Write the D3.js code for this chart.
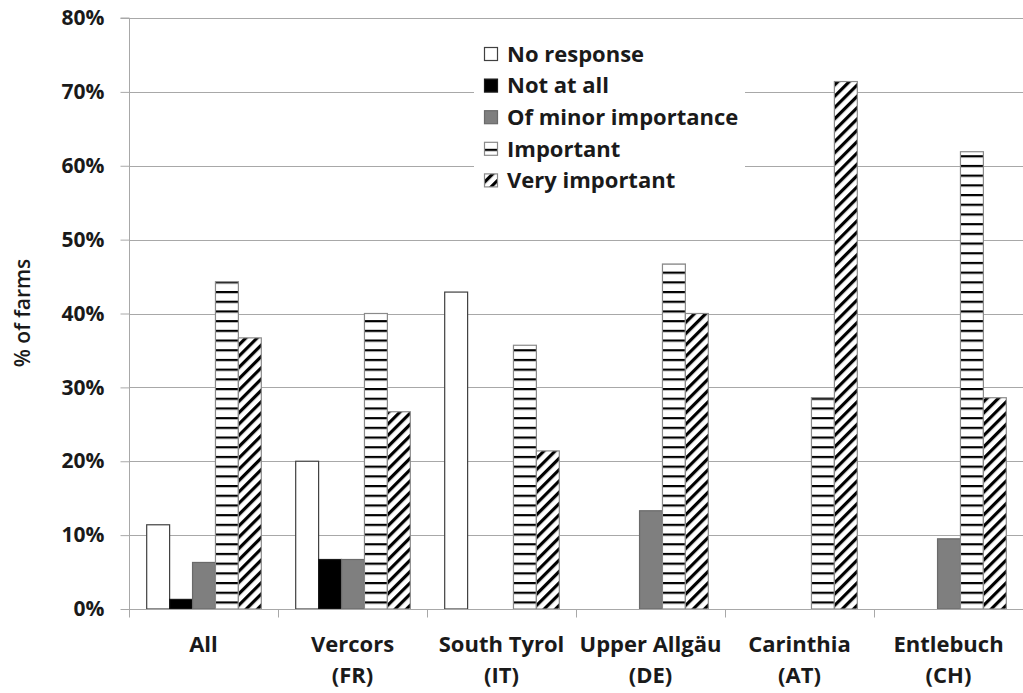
<!DOCTYPE html>
<html>
<head>
<meta charset="utf-8">
<script src="https://cdn.jsdelivr.net/npm/d3@7"></script>
<style>
  html, body { margin: 0; padding: 0; background: #fff; }
  svg { display: block; }
  text { font-family: "Open Sans", "DejaVu Sans", sans-serif; fill: #1a1a1a; }
</style>
</head>
<body>
<svg id="chart" width="1023" height="693"></svg>
<script>
// ---- data ----
const categories = ["All", "Vercors (FR)", "South Tyrol (IT)", "Upper Allgäu (DE)", "Carinthia (AT)", "Entlebuch (CH)"];
const categoryLines = [["All"], ["Vercors", "(FR)"], ["South Tyrol", "(IT)"], ["Upper Allgäu", "(DE)"], ["Carinthia", "(AT)"], ["Entlebuch", "(CH)"]];
const seriesNames = ["No response", "Not at all", "Of minor importance", "Important", "Very important"];
const noResponse    = [11.4, 20.0, 42.9, 0, 0, 0];
const notAtAll      = [1.3, 6.7, 0, 0, 0, 0];
const minorImport   = [6.3, 6.7, 0, 13.3, 0, 9.5];
const important     = [44.3, 40.0, 35.7, 46.7, 28.6, 61.9];
const veryImportant = [36.7, 26.7, 21.4, 40.0, 71.4, 28.6];
const yTicks = [0, 10, 20, 30, 40, 50, 60, 70, 80];
const yTitle = "% of farms";

const seriesValues = [noResponse, notAtAll, minorImport, important, veryImportant];

// ---- layout ----
const svg = d3.select("#chart");
const mLeft = 129, mRight = 1023, mTop = 18, mBottom = 609;

const defs = svg.append("defs");
const hp = defs.append("pattern").attr("id", "hstripe").attr("patternUnits", "userSpaceOnUse")
  .attr("width", 10).attr("height", 9.7);
hp.append("rect").attr("width", 10).attr("height", 9.7).attr("fill", "#fff");
hp.append("rect").attr("y", 0).attr("width", 10).attr("height", 2.2).attr("fill", "#000");

const dp = defs.append("pattern").attr("id", "dstripe").attr("patternUnits", "userSpaceOnUse")
  .attr("width", 8).attr("height", 8).attr("patternTransform", "rotate(45)");
dp.append("rect").attr("width", 8).attr("height", 8).attr("fill", "#fff");
dp.append("rect").attr("x", 0).attr("width", 3.2).attr("height", 8).attr("fill", "#000");

const fills = ["#ffffff", "#000000", "#7f7f7f", "url(#hstripe)", "url(#dstripe)"];
const strokes = ["#404040", "#1a1a1a", "#6a6a6a", "#8a8a8a", "#8a8a8a"];

const y = d3.scaleLinear().domain([0, 80]).range([mBottom, mTop]);
const x0 = d3.scaleBand().domain(categories).range([mLeft, mRight]).paddingInner(0).paddingOuter(0);
const x1 = d3.scaleBand().domain(seriesNames).range([0, x0.bandwidth()]).paddingInner(0).paddingOuter(0.75);

// gridlines
svg.append("g").selectAll("line").data(yTicks.filter(d => d > 0)).join("line")
  .attr("x1", mLeft).attr("x2", mRight)
  .attr("y1", d => Math.round(y(d)) + 0.5).attr("y2", d => Math.round(y(d)) + 0.5)
  .attr("stroke", "#a8a8a8").attr("stroke-width", 1);

// y axis
const yAxis = svg.append("g").attr("transform", `translate(${mLeft + 0.5},0)`)
  .call(d3.axisLeft(y).tickValues(yTicks).tickSize(9).tickPadding(6).tickFormat(d => d + "%"));
yAxis.select(".domain").attr("stroke", "#a8a8a8").attr("d", `M-9,${y(80)}H0V${y(0)}`);
yAxis.selectAll(".tick line").attr("stroke", "#a8a8a8");
yAxis.selectAll(".tick text").style("font-size", "21px").style("font-weight", "700").attr("fill", "#1a1a1a")
  .style("font-family", "'Open Sans', sans-serif").attr("x", -25);

// bars
const groups = svg.append("g").selectAll("g").data(categories).join("g")
  .attr("transform", d => `translate(${x0(d)},0)`);
groups.selectAll("rect").data((c, ci) => seriesNames.map((s, si) => ({ s, si, v: seriesValues[si][ci] })).filter(d => d.v > 0))
  .join("rect")
  .attr("x", d => x1(d.s) + 0.5)
  .attr("width", x1.bandwidth())
  .attr("y", d => y(d.v))
  .attr("height", d => y(0) - y(d.v))
  .attr("fill", d => fills[d.si])
  .attr("stroke", d => strokes[d.si])
  .attr("stroke-width", 1.2);

// x axis
const xAxis = svg.append("g").attr("transform", `translate(0,${Math.round(mBottom) + 0.5})`);
xAxis.append("line").attr("x1", mLeft).attr("x2", mRight).attr("stroke", "#a8a8a8");
const boundaries = categories.map(c => x0(c)).concat([mRight - 0.5]);
xAxis.selectAll(".xt").data(boundaries).join("line").attr("class", "xt")
  .attr("x1", d => Math.round(d) + 0.5).attr("x2", d => Math.round(d) + 0.5)
  .attr("y1", 0).attr("y2", 8).attr("stroke", "#a8a8a8");

const labels = svg.append("g").selectAll("text").data(categories).join("text")
  .attr("x", d => x0(d) + x0.bandwidth() / 2)
  .attr("y", 652)
  .attr("text-anchor", "middle")
  .style("font-size", "22px").style("font-weight", "700");
labels.each(function (d, i) {
  const t = d3.select(this);
  categoryLines[i].forEach((ln, k) => {
    t.append("tspan").attr("x", x0(d) + x0.bandwidth() / 2).attr("dy", k === 0 ? 0 : 31).text(ln);
  });
});

// y title
svg.append("text").attr("transform", "translate(30,313) rotate(-90)")
  .attr("text-anchor", "middle").style("font-size", "21px").style("font-weight", "600")
  .text(yTitle);

// legend
const lg = svg.append("g");
lg.append("rect").attr("x", 474).attr("y", 36).attr("width", 271).attr("height", 162).attr("fill", "#fff");
const items = lg.selectAll("g").data(seriesNames).join("g")
  .attr("transform", (d, i) => `translate(484,${54 + i * 31.6})`);
items.append("rect").attr("x", 0.5).attr("y", -6.5).attr("width", 13).attr("height", 13)
  .attr("fill", (d, i) => fills[i]).attr("stroke", (d, i) => strokes[i]).attr("stroke-width", 1.2);
items.append("text").attr("x", 23).attr("y", 0).attr("dy", "0.35em")
  .style("font-size", "22px").style("font-weight", "700").text(d => d);
</script>
</body>
</html>
